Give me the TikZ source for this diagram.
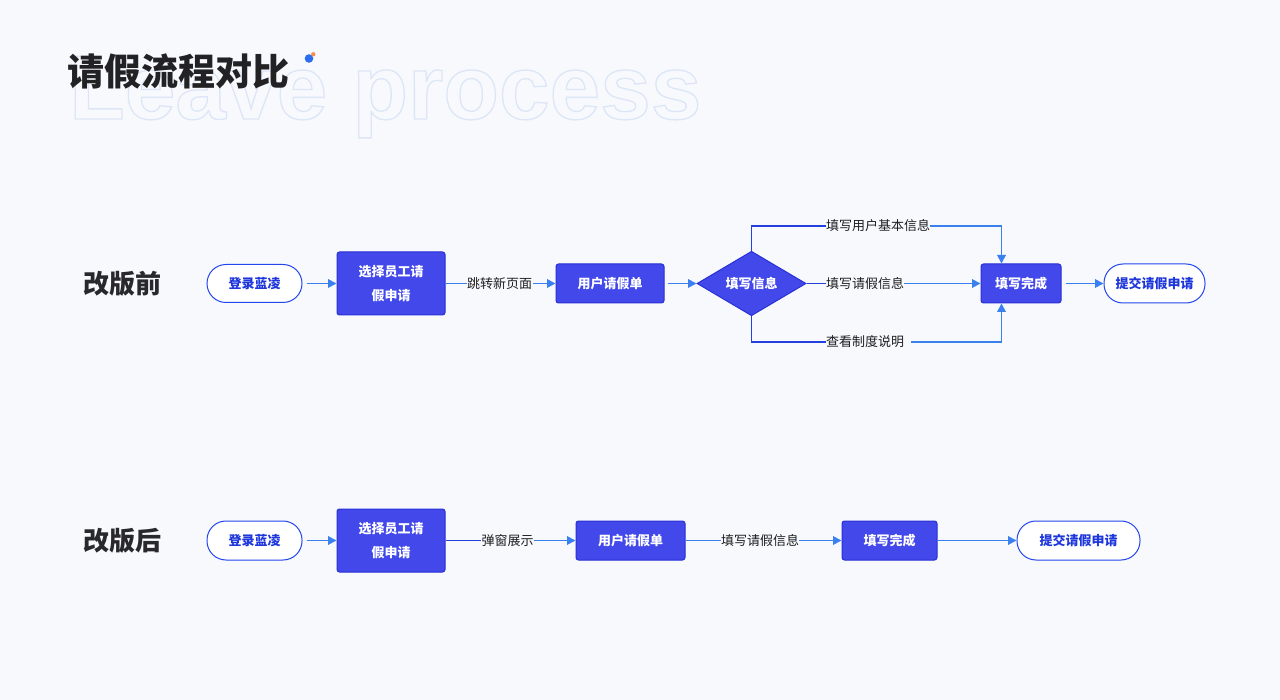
\documentclass[tikz,border=0pt]{standalone}
\usepackage{fontspec}
\setmainfont{Noto Sans CJK SC}
\newfontfamily\ghostfont{Liberation Sans}
\usetikzlibrary{arrows.meta,shapes.geometric,calc}

\definecolor{bgc}{RGB}{247,249,253}
\definecolor{boxfill}{RGB}{66,72,234}
\definecolor{boxline}{RGB}{40,48,214}
\definecolor{pillline}{RGB}{36,70,238}
\definecolor{pilltext}{RGB}{30,55,220}
\definecolor{arrowc}{RGB}{58,128,238}
\definecolor{darkline}{RGB}{36,64,222}
\definecolor{txt}{RGB}{30,30,30}
\definecolor{sidetxt}{RGB}{40,40,45}
\definecolor{titletxt}{RGB}{34,34,36}
\definecolor{ghost}{RGB}{220,230,246}
\definecolor{dotblue}{RGB}{45,110,240}
\definecolor{dotorange}{RGB}{245,140,80}

\begin{document}
\begin{tikzpicture}[x=1pt,y=-1pt,
  box/.style={draw=boxline, fill=boxfill, line width=1pt, rounded corners=2.5pt,
    text=white, font=\fontsize{13}{24}\selectfont\bfseries, align=center, inner sep=0pt},
  pill/.style={draw=pillline, fill=white, line width=1pt, rounded corners=19pt,
    text=pilltext, font=\fontsize{13}{16}\selectfont\bfseries, inner sep=0pt},
  dia/.style={diamond, draw=boxline, fill=boxfill, line width=1pt, text=white,
    font=\fontsize{13}{16}\selectfont\bfseries, inner sep=0pt},
  lbl/.style={text=txt, font=\fontsize{13}{16}\selectfont, inner sep=0pt},
  side/.style={text=sidetxt, font=\fontsize{26}{30}\selectfont\bfseries, inner sep=0pt},
  flow/.style={draw=arrowc, line width=1.8pt, -{Triangle[length=8.5pt,width=8.5pt]}},
  plain/.style={draw=darkline, line width=1.6pt},
]
\useasboundingbox (0,0) rectangle (1280,700);
\fill[bgc] (0,0) rectangle (1280,700);

% ghost outline text
\begin{scope}
\node[anchor=base west, inner sep=0pt, text=ghost, font=\ghostfont\bfseries\fontsize{91}{91}\selectfont]
  (ghost) at (69,119) {\special{pdf:literal direct 1 Tr 1.3 w}Leave process\special{pdf:literal direct 0 Tr}};
\end{scope}

% title
\node[anchor=base west, inner sep=0pt, text=titletxt, font=\fontsize{37}{40}\selectfont\bfseries]
  (title) at (67,86) {请假流程对比};
\fill[dotblue] (309,58.5) circle (4.3);
\fill[dotorange] (313.3,54.3) circle (2.2);

% ---------- row 1 ----------
\node[side] (s1) at (122.5,283.5) {改版前};
\node[pill, minimum width=95pt, minimum height=38pt] (a1) at (254.5,283.5) {登录蓝凌};
\node[box, minimum width=108pt, minimum height=63pt] (b1) at (391,283.5) {选择员工请\\假申请};
\node[box, minimum width=108pt, minimum height=39pt] (c1) at (610,283.5) {用户请假单};
\node[dia, minimum width=109pt, minimum height=63pt] (d1) at (751.5,283.5) {填写信息};
\node[box, minimum width=80pt, minimum height=39pt] (e1) at (1021,283.5) {填写完成};
\node[pill, minimum width=101pt, minimum height=39pt] (f1) at (1154.5,283.5) {提交请假申请};

\coordinate (e1top) at ($(e1.north west)+(21,0)$);
\coordinate (e1bot) at ($(e1.south west)+(21,0)$);

\draw[flow, shorten <=4pt] (a1) -- (b1);
\draw[flow] (b1) -- (c1);
\node[lbl, fill=bgc, inner xsep=0.5pt, inner ysep=2pt] (l1) at (499.5,283.5) {跳转新页面};
\draw[flow, shorten <=3pt] (c1) -- (d1);

\node[lbl, anchor=west] (lt) at (826,226) {填写用户基本信息};
\node[lbl, anchor=west] (lm) at (826,283.5) {填写请假信息};
\node[lbl, anchor=west] (lb) at (826,342) {查看制度说明};

\draw[plain] (d1.north) |- (lt.west);
\draw[flow] (lt.east) -| (e1top);
\draw[plain] (d1.east) -- (lm.west);
\draw[flow] (lm.east) -- (e1.west);
\draw[plain] (d1.south) |- (lb.west);
\draw[flow] ([xshift=7pt]lb.east) -| (e1bot);

\draw[flow, shorten <=4pt] (e1) -- (f1);

% ---------- row 2 ----------
\node[side] (s2) at (122.5,540.5) {改版后};
\node[pill, minimum width=95pt, minimum height=39pt] (a2) at (254.5,540.5) {登录蓝凌};
\node[box, minimum width=108pt, minimum height=63pt] (b2) at (391,540.5) {选择员工请\\假申请};
\node[box, minimum width=109pt, minimum height=39pt] (c2) at (630.5,540.5) {用户请假单};
\node[box, minimum width=95pt, minimum height=39pt] (e2) at (889.5,540.5) {填写完成};
\node[pill, minimum width=123pt, minimum height=39pt] (f2) at (1078.5,540.5) {提交请假申请};

\node[lbl] (l2) at (507.5,540.5) {弹窗展示};
\node[lbl] (l3) at (760,540.5) {填写请假信息};

\draw[flow, shorten <=4pt] (a2) -- (b2);
\draw[plain] (b2.east) -- (l2.west);
\draw[flow] (l2.east) -- (c2.west);
\draw[draw=arrowc, line width=1.8pt] (c2.east) -- (l3.west);
\draw[flow] (l3.east) -- (e2.west);
\draw[flow] (e2) -- (f2);
\end{tikzpicture}
\end{document}
